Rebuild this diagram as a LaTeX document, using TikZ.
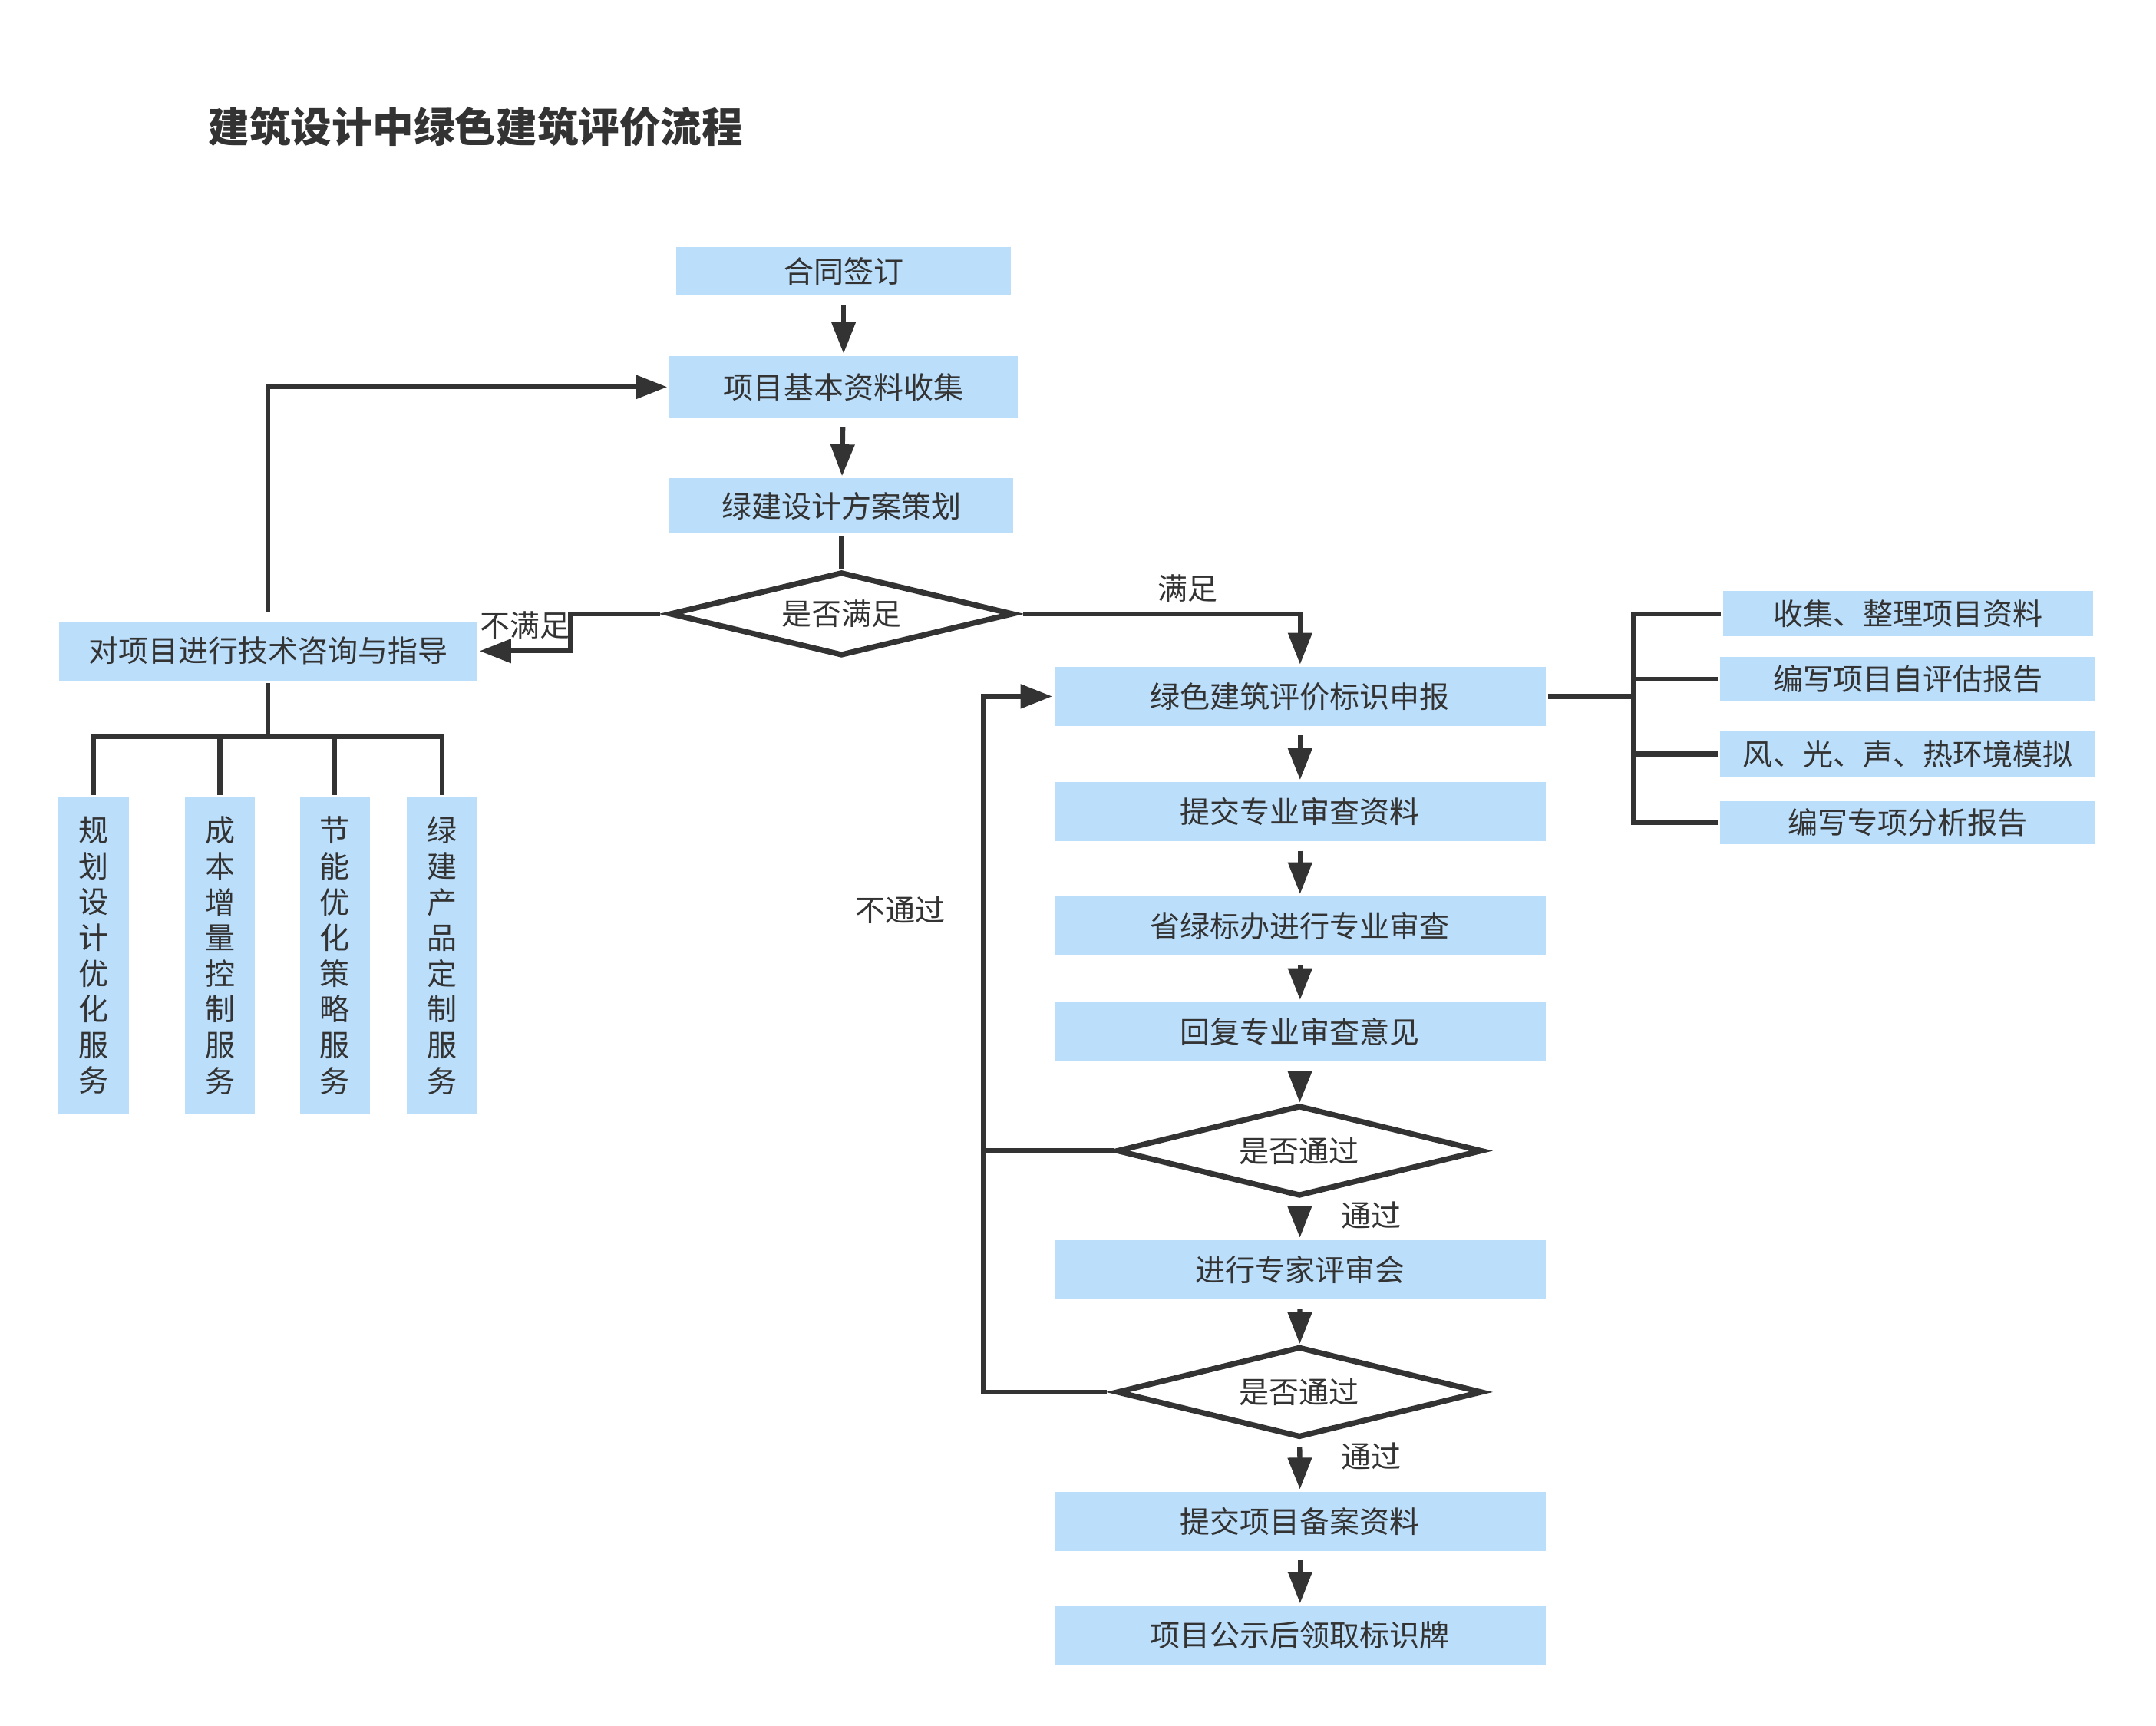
\documentclass[tikz,border=0pt]{standalone}
\usepackage{fontspec}
\setmainfont{Noto Sans CJK SC}
\usetikzlibrary{shapes.geometric,arrows.meta}
\definecolor{boxblue}{RGB}{187,222,251}
\definecolor{ink}{RGB}{51,51,51}

\begin{document}
\begin{tikzpicture}[line width=2pt, color=ink,
  every node/.style={text=ink, inner sep=0pt, font=\fontsize{12.4}{14.8}\selectfont},
  box/.style={rectangle, fill=boxblue, minimum width=7.14cm, minimum height=0.86cm},
  vbox/.style={rectangle, fill=boxblue, align=center, minimum width=1.02cm, minimum height=4.6cm},
  diam/.style={diamond, draw, line width=2.3pt, fill=white, aspect=4, minimum width=5.32cm, minimum height=1.32cm},
  arr/.style={-{Triangle[length=4.6mm,width=3.4mm]}, shorten <=0.1cm}]
  \useasboundingbox (0,0) rectangle (31.36,-25.10);

  \node[anchor=west, font=\fontsize{17}{20}\selectfont\bfseries] (title) at (3.0,-1.84) {建筑设计中绿色建筑评价流程};

  % left part
  \node[box, minimum width=4.86cm, minimum height=0.7cm] (sign) at (12.27,-3.95) {合同签订};
  \node[box, minimum width=5.06cm, minimum height=0.9cm] (collect) at (12.27,-5.63) {项目基本资料收集};
  \node[box, minimum width=5cm, minimum height=0.8cm] (plan) at (12.24,-7.36) {绿建设计方案策划};
  \node[diam, minimum width=5cm, minimum height=1.22cm] (meet) at (12.24,-8.93) {是否满足};
  \node[box, minimum width=6.08cm] (consult) at (3.9,-9.47) {对项目进行技术咨询与指导};
  \node[vbox] (s1) at (1.36,-13.9) {规\\划\\设\\计\\优\\化\\服\\务};
  \node[vbox] (s2) at (3.2,-13.9) {成\\本\\增\\量\\控\\制\\服\\务};
  \node[vbox] (s3) at (4.87,-13.9) {节\\能\\优\\化\\策\\略\\服\\务};
  \node[vbox] (s4) at (6.43,-13.9) {绿\\建\\产\\品\\定\\制\\服\\务};

  % right part
  \node[box] (apply) at (18.91,-10.13) {绿色建筑评价标识申报};
  \node[box] (submit) at (18.91,-11.81) {提交专业审查资料};
  \node[box] (review) at (18.91,-13.47) {省绿标办进行专业审查};
  \node[box] (reply) at (18.91,-15.01) {回复专业审查意见};
  \node[diam] (pass1) at (18.9,-16.74) {是否通过};
  \node[box] (expert) at (18.91,-18.47) {进行专家评审会};
  \node[diam] (pass2) at (18.9,-20.25) {是否通过};
  \node[box] (record) at (18.91,-22.13) {提交项目备案资料};
  \node[box] (plate) at (18.91,-23.79) {项目公示后领取标识牌};
  \node[box, minimum width=5.38cm, minimum height=0.66cm] (r1) at (27.75,-8.93) {收集、整理项目资料};
  \node[box, minimum width=5.46cm, minimum height=0.64cm] (r2) at (27.75,-9.88) {编写项目自评估报告};
  \node[box, minimum width=5.46cm, minimum height=0.66cm] (r3) at (27.75,-10.97) {风、光、声、热环境模拟};
  \node[box, minimum width=5.46cm, minimum height=0.62cm] (r4) at (27.75,-11.97) {编写专项分析报告};

  \node (no) at (7.64,-9.1) {不满足};
  \node (yes) at (17.28,-8.56) {满足};
  \node (fail) at (13.1,-13.24) {不通过};
  \node (ok1) at (19.94,-17.68) {通过};
  \node (ok2) at (19.94,-21.18) {通过};

  \coordinate (fork) at (3.9,-10.72);
  \coordinate (hub) at (23.76,-10.13);
  \coordinate (back) at (14.3,-16.74);

  \foreach \a/\b in {sign/collect, collect/plan, apply/submit, submit/review, review/reply, reply/pass1, pass1/expert, expert/pass2, pass2/record, record/plate}
    \draw[arr] (\a) -- (\b);
  \draw (plan) -- (meet);
  \draw[arr] (meet.west) -- ++(-1.4,0) |- (consult.east); \draw[arr] (meet.east) -| (apply.north);
  \draw[arr] (consult.north) |- (collect.west);
  \draw (consult) -- (fork); \foreach \s in {s1,s2,s3,s4} \draw (fork) -| (\s.north);
  \draw (apply.east) -- (hub); \foreach \r in {r1,r2,r3,r4} \draw (\r.west) -| (hub);
  \draw (pass1.west) -- (back); \draw[arr] (pass2.west) -| (back) |- (apply.west);
\end{tikzpicture}
\end{document}
